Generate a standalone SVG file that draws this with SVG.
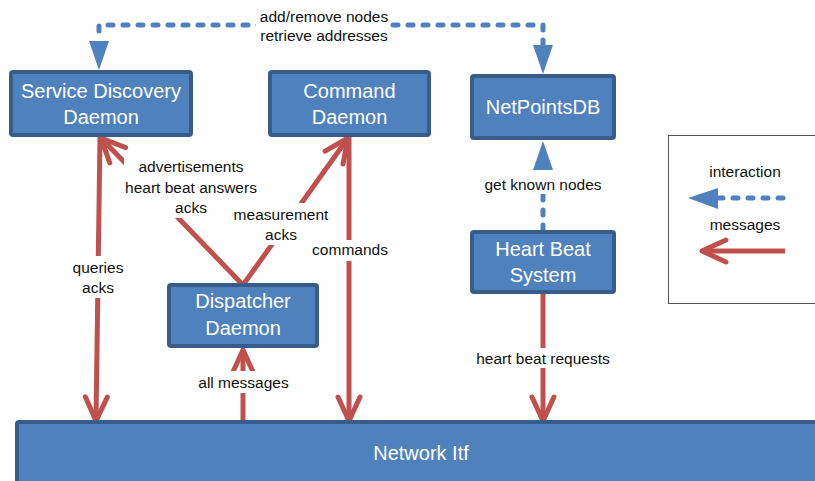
<svg xmlns="http://www.w3.org/2000/svg" width="815" height="481" viewBox="0 0 815 481">
  <style>
    .box { fill: #4F81BD; stroke: #385D8A; stroke-width: 4; }
    .name { font-family: "Liberation Sans", Arial, sans-serif; font-size: 20px; fill: #FFFFFF; text-anchor: middle; }
    .lbl { font-family: "Liberation Sans", Arial, sans-serif; font-size: 15.5px; fill: #111111; text-anchor: middle; }
    .bg { fill: #FFFFFF; }
    .msg { fill: none; stroke: #C0504D; stroke-width: 5; marker-end: url(#msgHead); }
    .ia { fill: none; stroke: #4F81BD; stroke-width: 5; stroke-linecap: round; stroke-dasharray: 5 10; }
  </style>
  <defs>
    <!-- open arrowhead for message flows -->
    <marker id="msgHead" markerUnits="userSpaceOnUse" orient="auto" overflow="visible" markerWidth="1" markerHeight="1" refX="0" refY="0">
      <path d="M-24,-11 L0,0 L-24,11" fill="none" stroke="#C0504D" stroke-width="5" stroke-linecap="round" stroke-linejoin="round"/>
    </marker>
    <!-- solid triangle for interactions; base sits on the path end -->
    <marker id="iaHead" markerUnits="userSpaceOnUse" orient="auto-start-reverse" overflow="visible" markerWidth="1" markerHeight="1" refX="0" refY="0">
      <path d="M0,-10 L29,0 L0,10 Z" fill="#4F81BD"/>
    </marker>
  </defs>

  <rect width="815" height="481" fill="#FFFFFF"/>

  <!-- connectors -->
  <g id="connectors">
    <path class="ia" d="M543,45 L543,25 L99,25 L99,41" marker-start="url(#iaHead)" marker-end="url(#iaHead)"/>
    <path class="ia" d="M543,230 L543,170" marker-end="url(#iaHead)"/>

    <path class="msg" d="M100,137 L96,421"/>
    <path class="msg" d="M243,285 L101,138"/>
    <path class="msg" d="M243,285 L348,138"/>
    <path class="msg" d="M349,137 L349,421"/>
    <path class="msg" d="M243,421 L243,350"/>
    <path class="msg" d="M543,294 L543,421"/>

    <!-- label backgrounds interrupt the lines -->
    <rect class="bg" x="256" y="9" width="134" height="36"/>
    <rect class="bg" x="482" y="176" width="124" height="18"/>
    <rect class="bg" x="124" y="158" width="136" height="60"/>
    <rect class="bg" x="230" y="203" width="101" height="42"/>
    <rect class="bg" x="310" y="240" width="80" height="21"/>
    <rect class="bg" x="70" y="256" width="56" height="42"/>
    <rect class="bg" x="199" y="371" width="89" height="22"/>
    <rect class="bg" x="474" y="348" width="138" height="20"/>

    <text class="lbl" x="324" y="22">add/remove nodes</text>
    <text class="lbl" x="324" y="41">retrieve addresses</text>
    <text class="lbl" x="543" y="190">get known nodes</text>
    <text class="lbl" x="191" y="172">advertisements</text>
    <text class="lbl" x="191" y="193">heart beat answers</text>
    <text class="lbl" x="191" y="213">acks</text>
    <text class="lbl" x="281" y="220">measurement</text>
    <text class="lbl" x="281" y="240">acks</text>
    <text class="lbl" x="350" y="255">commands</text>
    <text class="lbl" x="98" y="273">queries</text>
    <text class="lbl" x="98" y="293">acks</text>
    <text class="lbl" x="243.5" y="388">all messages</text>
    <text class="lbl" x="543" y="364">heart beat requests</text>
  </g>

  <!-- nodes -->
  <g id="service-discovery">
    <rect class="box" x="11" y="72" width="180" height="63" rx="2"/>
    <text class="name" x="101" y="98">Service Discovery</text>
    <text class="name" x="101" y="124">Daemon</text>
  </g>
  <g id="command">
    <rect class="box" x="270" y="72" width="159" height="63" rx="2"/>
    <text class="name" x="349.5" y="98">Command</text>
    <text class="name" x="349.5" y="124">Daemon</text>
  </g>
  <g id="netpointsdb">
    <rect class="box" x="472" y="76" width="142" height="62" rx="2"/>
    <text class="name" x="543" y="114">NetPointsDB</text>
  </g>
  <g id="heart-beat">
    <rect class="box" x="472" y="232" width="142" height="60" rx="2"/>
    <text class="name" x="543" y="256">Heart Beat</text>
    <text class="name" x="543" y="282">System</text>
  </g>
  <g id="dispatcher">
    <rect class="box" x="169" y="285" width="148" height="61" rx="2"/>
    <text class="name" x="243" y="308">Dispatcher</text>
    <text class="name" x="243" y="335">Daemon</text>
  </g>
  <g id="network-itf">
    <rect class="box" x="17" y="422" width="810" height="80" rx="2"/>
    <text class="name" x="421" y="460">Network Itf</text>
  </g>

  <!-- legend -->
  <g id="legend">
    <rect x="668.5" y="135.5" width="160" height="168" fill="#FFFFFF" stroke="#555555" stroke-width="1"/>
    <text class="lbl" x="745" y="177">interaction</text>
    <path class="ia" d="M783,198 L718,198"/>
    <path d="M718,188 L688,198 L718,209 Z" fill="#4F81BD"/>
    <text class="lbl" x="745" y="230">messages</text>
    <path class="msg" d="M785,251 L702,251"/>
  </g>
</svg>
